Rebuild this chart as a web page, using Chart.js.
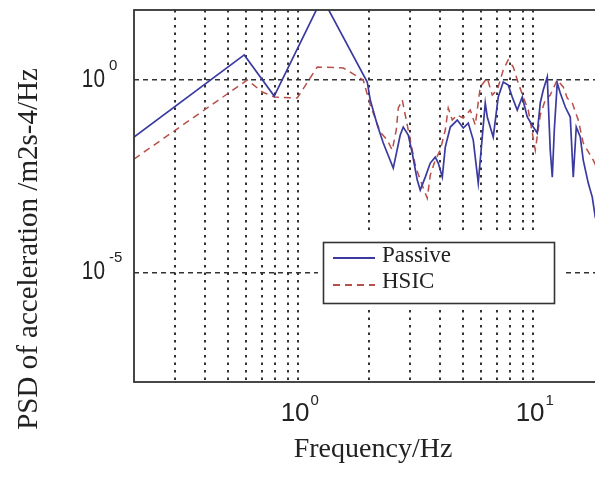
<!DOCTYPE html>
<html>
<head>
<meta charset="utf-8">
<script src="https://cdn.jsdelivr.net/npm/chart.js"></script>
<style>
  html, body { margin: 0; padding: 0; background: #fff; overflow: hidden; }
  #wrap { width: 612px; height: 478px; position: relative; }
</style>
</head>
<body>
<div id="wrap"><canvas id="psdChart"></canvas></div>
<script>
// Passive suspension PSD (frequency in Hz, PSD in m2s-4/Hz)
const passiveFreq = [0.2, 0.589, 0.79, 1.265, 1.966, 2.025, 2.169, 2.3, 2.537, 2.716, 2.798, 2.938, 3.055,
  3.209, 3.305, 3.471, 3.646, 3.828, 3.942, 4.101, 4.223, 4.436, 4.75, 5.037, 5.29, 5.555, 5.834, 6.067,
  6.248, 6.372, 6.756, 7.096, 7.452, 7.825, 8.138, 8.548, 8.977, 9.429, 10.0, 10.4, 10.71, 11.03, 11.47,
  11.81, 12.05, 12.29, 12.65, 13.03, 13.69, 14.37, 14.8, 15.24, 15.85, 16.32, 17.14, 17.83, 18.36, 19.28];
const passivePsd = [0.0328, 4.48, 0.383, 136, 0.887, 0.301, 0.0673, 0.0229, 0.0051, 0.037, 0.0597, 0.037, 0.0126,
  0.00249, 0.00137, 0.00298, 0.0069, 0.00988, 0.0069, 0.00298, 0.018, 0.0597, 0.0908, 0.0562, 0.0759, 0.0274, 0.00208, 0.0328,
  0.252, 0.1087, 0.0328, 0.361, 0.887, 0.741, 0.361, 0.1655, 0.361, 0.1087, 0.0597, 0.0417, 0.252, 0.549, 1.197,
  0.015, 0.00298, 0.0499, 0.835, 0.458, 0.198, 0.1087, 0.00298, 0.0597, 0.0328, 0.00825, 0.00208, 0.000898, 0.00027, 0.000124];

// HSIC controlled suspension PSD
const hsicFreq = [0.2, 0.607, 0.703, 0.79, 0.99, 1.205, 1.554, 1.89, 2.025, 2.234, 2.391, 2.512, 2.612, 2.665,
  2.771, 2.853, 2.996, 3.147, 3.305, 3.539, 3.646, 3.828, 4.021, 4.223, 4.348, 4.522, 4.75, 5.037, 5.395, 5.666,
  5.949, 6.372, 6.69, 7.03, 7.452, 7.825, 8.22, 8.633, 9.069, 9.522, 10.2, 10.71, 11.25, 11.81, 12.65, 13.42,
  13.95, 14.66, 15.54, 16.32, 16.98, 18.0, 19.28];
const hsicPsd = [0.00877, 1.0, 0.487, 0.361, 0.34, 2.18, 2.05, 1.0, 0.223, 0.0442, 0.0274, 0.015, 0.0499, 0.1866,
  0.301, 0.1227, 0.0274, 0.00611, 0.00249, 0.000845, 0.00336, 0.00825, 0.015, 0.0499, 0.1866, 0.0908, 0.1227, 0.1024, 0.1655, 0.0673,
  0.657, 1.127, 0.407, 0.549, 1.82, 3.32, 2.18, 0.835, 0.361, 0.1655, 0.015, 0.1227, 0.301, 0.407, 1.0, 0.657,
  0.34, 0.252, 0.0908, 0.0229, 0.015, 0.00825, 0.00336];

// grid positions and the labelled decades
const xGridTicks = [0.3, 0.4, 0.5, 0.6, 0.7, 0.8, 0.9, 1, 2, 3, 4, 5, 6, 7, 8, 9, 10];
const yGridTicks = [1e-5, 1];
const xLabelValues = [1, 10];
const xLabelExps = ['0', '1'];
const yLabelValues = [1, 1e-5];
const yLabelExps = ['0', '-5'];

const toPoints = (xs, ys) => xs.map((x, i) => ({ x: x, y: ys[i] }));

// frame, tick labels, axis titles and the boxed legend, MATLAB style
const decorations = {
  id: 'decorations',
  afterDraw(chart) {
    const ctx = chart.ctx;
    const area = chart.chartArea;
    const xs = chart.scales.x, ys = chart.scales.y;
    ctx.save();

    // axes box
    ctx.strokeStyle = '#333';
    ctx.lineWidth = 1.8;
    ctx.setLineDash([]);
    ctx.strokeRect(area.left, area.top, area.right - area.left, area.bottom - area.top);

    ctx.fillStyle = '#222';
    // x tick labels 10^n
    xLabelValues.forEach((v, i) => {
      const px = xs.getPixelForValue(v);
      ctx.font = '26px "Liberation Sans", Arial, sans-serif';
      const wb = ctx.measureText('10').width;
      ctx.font = '15px "Liberation Sans", Arial, sans-serif';
      const we = ctx.measureText(xLabelExps[i]).width;
      const start = px - (wb + 2 + we) / 2 + 2;
      ctx.textAlign = 'left';
      ctx.textBaseline = 'middle';
      ctx.font = '26px "Liberation Sans", Arial, sans-serif';
      ctx.fillText('10', start, area.bottom + 32);
      ctx.font = '15px "Liberation Sans", Arial, sans-serif';
      ctx.fillText(xLabelExps[i], start + wb + 1, area.bottom + 19);
    });
    // y tick labels 10^n
    yLabelValues.forEach((v, i) => {
      const py = ys.getPixelForValue(v);
      const right = area.left - 29;
      ctx.save();
      ctx.translate(right, py);
      ctx.scale(0.8, 1);
      ctx.textAlign = 'right';
      ctx.textBaseline = 'middle';
      ctx.font = '26px "Liberation Sans", Arial, sans-serif';
      ctx.fillText('10', 0, 0);
      ctx.restore();
      ctx.textAlign = 'left';
      ctx.textBaseline = 'middle';
      ctx.font = '15px "Liberation Sans", Arial, sans-serif';
      ctx.fillText(yLabelExps[i], right + 4, py - 14);
    });

    // axis titles
    ctx.font = '28px "Liberation Serif", "Times New Roman", serif';
    ctx.textAlign = 'center';
    ctx.textBaseline = 'middle';
    ctx.fillText('Frequency/Hz', 373, 450);
    ctx.save();
    ctx.translate(29, 249);
    ctx.rotate(-Math.PI / 2);
    ctx.font = '29px "Liberation Serif", "Times New Roman", serif';
    ctx.fillText('PSD of acceleration /m2s-4/Hz', 0, 0);
    ctx.restore();

    // legend
    ctx.fillStyle = '#fff';
    ctx.fillRect(318, 231, 244, 76);
    ctx.strokeStyle = '#333';
    ctx.lineWidth = 1.6;
    ctx.strokeRect(323.5, 242.5, 231, 61);
    const rows = [258, 285];
    const textY = [262, 288];
    chart.data.datasets.forEach((ds, i) => {
      ctx.strokeStyle = ds.borderColor;
      ctx.lineWidth = 2.2;
      ctx.setLineDash(ds.borderDash || []);
      ctx.beginPath();
      ctx.moveTo(333, rows[i]);
      ctx.lineTo(375, rows[i]);
      ctx.stroke();
      ctx.setLineDash([]);
      ctx.fillStyle = '#222';
      ctx.font = '23px "Liberation Serif", "Times New Roman", serif';
      ctx.textAlign = 'left';
      ctx.textBaseline = 'alphabetic';
      ctx.fillText(ds.label, 382, textY[i]);
    });
    ctx.restore();
  }
};

new Chart(document.getElementById('psdChart'), {
  type: 'line',
  data: {
    datasets: [
      {
        label: 'Passive',
        data: toPoints(passiveFreq, passivePsd),
        borderColor: '#3a3aa0',
        borderWidth: 1.7,
        pointRadius: 0,
        tension: 0,
        order: 1
      },
      {
        label: 'HSIC',
        data: toPoints(hsicFreq, hsicPsd),
        borderColor: '#b8504a',
        borderWidth: 1.5,
        borderDash: [7, 5],
        pointRadius: 0,
        tension: 0,
        order: 2
      }
    ]
  },
  options: {
    responsive: true,
    maintainAspectRatio: false,
    animation: false,
    layout: { padding: { left: 134, top: 10, right: 8, bottom: 96 } },
    plugins: { legend: { display: false }, tooltip: { enabled: false } },
    scales: {
      x: {
        type: 'logarithmic',
        min: 0.2,
        max: 20,
        afterBuildTicks: s => { s.ticks = xGridTicks.map(v => ({ value: v })); },
        ticks: { display: false },
        grid: { color: '#333', lineWidth: 2, drawTicks: false },
        border: { display: false, dash: [2.5, 5] }
      },
      y: {
        type: 'logarithmic',
        min: 1.4e-8,
        max: 66,
        afterBuildTicks: s => { s.ticks = yGridTicks.map(v => ({ value: v })); },
        ticks: { display: false },
        grid: { color: '#333', lineWidth: 1.5, drawTicks: false },
        border: { display: false, dash: [5, 4] }
      }
    }
  },
  plugins: [decorations]
});
</script>
</body>
</html>
